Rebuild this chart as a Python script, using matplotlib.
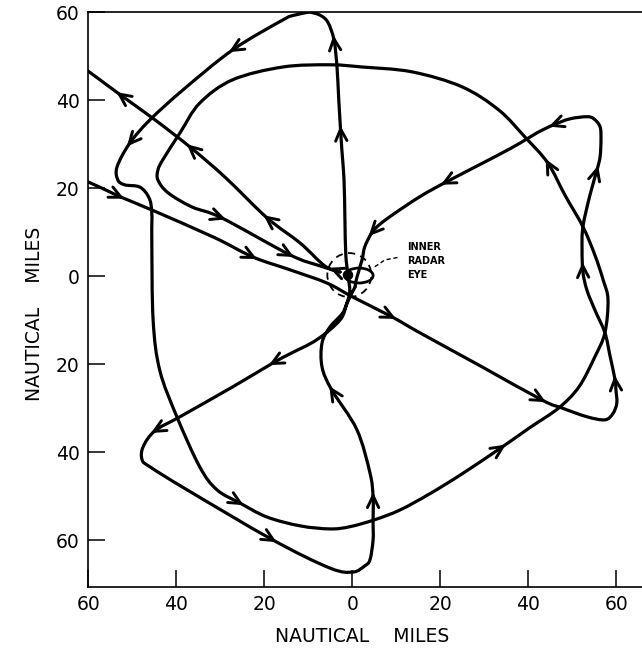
import numpy as np
import matplotlib
matplotlib.use("Agg")
import matplotlib.pyplot as plt
from matplotlib.patches import Circle, Ellipse, PathPatch
from matplotlib.path import Path
from matplotlib.ticker import FuncFormatter

plt.rcParams["font.family"] = ["DejaVu Sans"]

# Flight track, nautical miles east (x) and north (y) of the storm centre.
# Leg 1: enters from the west, crosses the eye, turns in the SE and NE, back in.
leg_east_loop = [
    (-60.1, 21.5), (-55.1, 19.2), (-52.8, 18.1), (-45.6, 15.1), (-31.3, 8.8),
    (-22.6, 4.4), (-14.2, 1.5), (-5.8, -1.5), (0.1, -4.7), (9.0, -9.2),
    (15.3, -12.8), (29.0, -20.3), (43.1, -28.1), (47.6, -29.9), (53.3, -31.9),
    (57.4, -32.6), (59.2, -31.2), (60.1, -28.8), (59.9, -25.8), (59.7, -23.5),
    (58.5, -17.8), (57.4, -12.8), (55.1, -7.6), (53.3, -3.1), (52.4, 1.0),
    (52.2, 6.0), (52.4, 11.3), (54.0, 18.5), (55.6, 24.2), (56.3, 27.2),
    (56.5, 31.0), (56.3, 34.0), (54.9, 35.8), (53.3, 36.3), (49.4, 35.8),
    (45.6, 34.4), (41.9, 32.6), (38.1, 30.3), (32.4, 27.2), (21.0, 21.3),
    (15.3, 18.1), (9.7, 14.4), (6.3, 11.9), (4.4, 9.9), (2.8, 6.7),
    (2.2, 3.8), (1.0, -0.3), (0.6, -2.4),
]

# Leg 2: out to the SW, around the south, north through the eye and up to 60 n mi.
leg_south_north = [
    (0.6, -2.4), (-1.2, -6.0), (-2.8, -9.9), (-8.1, -14.4), (-14.2, -17.6),
    (-18.1, -19.7), (-27.2, -25.1), (-39.2, -31.9), (-44.9, -35.1),
    (-47.6, -38.8), (-47.8, -41.7), (-46.0, -43.3), (-37.6, -48.5),
    (-18.1, -59.9), (-5.1, -66.3), (0.1, -67.2), (2.8, -65.8), (4.0, -64.4),
    (4.7, -59.9), (4.7, -56.0), (4.7, -50.1), (4.0, -44.7), (1.0, -34.8),
    (-4.7, -25.8), (-6.9, -20.6), (-6.9, -15.1), (-5.1, -11.5), (-2.2, -8.3),
    (-1.0, -5.3), (-0.6, -3.1), (-1.0, 0.3), (-1.5, 4.9), (-1.7, 12.8),
    (-1.9, 21.9), (-2.4, 28.8), (-3.1, 40.1), (-3.5, 47.6), (-4.2, 53.8),
    (-5.6, 57.8), (-7.4, 59.4), (-9.7, 60.1),
]

# Leg 3: the long circuit around the storm, ending back at the eye from the NW.
leg_circuit = [
    (-9.7, 60.1), (-13.1, 59.4), (-15.8, 58.3), (-27.2, 51.5), (-38.5, 42.4),
    (-46.0, 35.6), (-50.6, 30.3), (-53.5, 24.9), (-53.3, 21.9), (-51.7, 20.8),
    (-48.3, 20.3), (-46.2, 17.8), (-45.6, 14.4), (-45.6, 8.3), (-45.3, -9.9),
    (-43.8, -21.3), (-39.9, -31.9), (-34.7, -43.3), (-30.8, -48.5),
    (-25.6, -51.5), (-19.4, -54.7), (-11.9, -56.7), (-5.1, -57.4),
    (-0.6, -56.9), (5.1, -55.3), (10.8, -53.1), (17.6, -49.4), (24.9, -44.9),
    (34.0, -38.8), (40.3, -34.4), (46.9, -29.9), (51.5, -25.1), (55.1, -18.3),
    (57.4, -12.8), (58.1, -5.3), (57.0, -0.8), (55.1, 4.9), (52.4, 11.3),
    (48.3, 18.5), (44.4, 25.8), (39.2, 31.7), (33.3, 37.8), (24.9, 43.1),
    (13.5, 46.5), (2.2, 47.6), (-5.1, 48.1), (-15.8, 47.6), (-27.2, 44.7),
    (-34.7, 39.4), (-39.2, 32.6), (-43.1, 26.5), (-44.2, 24.2), (-44.2, 21.9),
    (-41.9, 19.0), (-36.5, 15.8), (-29.7, 13.3), (-14.2, 4.9), (-7.4, 2.4),
    (-2.8, 1.0),
]

# Leg 4: exit from the eye to the NW.
leg_exit = [
    (-2.8, 1.0), (-6.3, 2.4), (-11.9, 7.6), (-19.4, 13.3), (-29.0, 22.6),
    (-36.9, 29.4), (-44.9, 35.6), (-52.8, 41.3), (-60.1, 46.7),
]

# Direction arrows (approximate positions along each leg)
arrows_east_loop = [(-52.8, 18.1), (-22.6, 4.4), (9.0, -9.2), (43.1, -28.1),
                    (59.7, -23.5), (52.3, 2.2), (55.6, 24.2), (45.6, 34.4),
                    (21.0, 21.3), (4.4, 9.9)]
arrows_south_north = [(-18.1, -19.7), (-44.9, -35.1), (-18.1, -59.9),
                      (4.7, -50.1), (-4.7, -25.8), (-1.9, 33.3), (-4.2, 53.8)]
arrows_circuit = [(-27.2, 51.5), (-50.6, 30.3), (-25.6, -51.5), (34.0, -38.8),
                  (44.4, 25.8), (-29.7, 13.3), (-14.2, 4.9)]
arrows_exit = [(-4.0, 2.2), (-19.4, 13.3), (-36.9, 29.4), (-52.8, 41.3)]

# Eye features
radar_eye_center = (-0.7, 0.3)
radar_eye_radius = 5.0
inner_loop_center = (1.5, 0.2)
inner_loop_size = (6.4, 3.4)
fix_point = (-1.0, 0.3)

tick_values = [-60, -40, -20, 0, 20, 40, 60]

fig = plt.figure(figsize=(6.42, 6.55), dpi=100)
ax = fig.add_axes([88 / 642, 1 - 587 / 655, 1 - 88 / 642, 575 / 655])
ax.set_xlim(-60.1, 65.8)
ax.set_ylim(-70.6, 60.1)
ax.set_aspect("equal", adjustable="box", anchor="SW")

LW = 2.3


def smooth_path(leg):
    """Cubic Bezier path through the waypoints (Catmull-Rom tangents)."""
    p = np.asarray(leg, dtype=float)
    ext = np.vstack([p[0], p, p[-1]])
    verts = [p[0]]
    codes = [Path.MOVETO]
    for i in range(1, len(ext) - 2):
        p0, p1, p2, p3 = ext[i - 1], ext[i], ext[i + 1], ext[i + 2]
        verts += [p1 + (p2 - p0) / 6.0, p2 - (p3 - p1) / 6.0, p2]
        codes += [Path.CURVE4] * 3
    return Path(verts, codes)


for leg in (leg_east_loop, leg_south_north, leg_circuit, leg_exit):
    ax.add_patch(PathPatch(smooth_path(leg), fill=False, ec="black", lw=LW,
                           joinstyle="round", capstyle="round"))


def add_arrows(leg, where):
    pts = np.asarray(leg, dtype=float)
    for p in np.asarray(where, dtype=float):
        best = None
        for a, b in zip(pts[:-1], pts[1:]):
            d = b - a
            L2 = float(d @ d)
            if L2 == 0:
                continue
            t = np.clip((p - a) @ d / L2, 0.0, 1.0)
            q = a + t * d
            dist = np.hypot(*(p - q))
            if best is None or dist < best[0]:
                best = (dist, q, d / np.sqrt(L2))
        _, q, u = best
        ax.annotate("", xy=q + 1.0 * u, xytext=q - 0.6 * u,
                    arrowprops=dict(arrowstyle="->,head_length=0.5,head_width=0.24",
                                    lw=2.1, color="black", shrinkA=0, shrinkB=0,
                                    mutation_scale=17))


add_arrows(leg_east_loop, arrows_east_loop)
add_arrows(leg_south_north, arrows_south_north)
add_arrows(leg_circuit, arrows_circuit)
add_arrows(leg_exit, arrows_exit)

# Eye: dashed radar-eye circle, small inner loop and centre fix
ax.add_patch(Circle(radar_eye_center, radar_eye_radius, fill=False,
                    ec="black", lw=1.3, ls=(0, (4, 3))))
ax.add_patch(Ellipse(inner_loop_center, *inner_loop_size, fill=False,
                     ec="black", lw=2.0))
ax.add_patch(Circle(fix_point, 0.95, fc="black", ec="black", lw=1.5))

# Label and dashed leader for the inner radar eye
ax.plot([5.1, 7.4, 10.8], [2.2, 3.75, 4.4], color="black", lw=1.0,
        ls=(0, (3, 2)))
ax.text(12.4, 3.5, "INNER\nRADAR\nEYE", fontsize=7, fontweight="bold",
        ha="left", va="center", linespacing=1.5)

# Frame and ticks
ax.spines["right"].set_visible(False)
for s in ("left", "bottom", "top"):
    ax.spines[s].set_linewidth(1.2)
ax.set_xticks(tick_values)
ax.set_yticks(tick_values)
ax.xaxis.set_major_formatter(FuncFormatter(lambda v, _: f"{abs(int(round(v)))}"))
ax.yaxis.set_major_formatter(FuncFormatter(lambda v, _: f"{abs(int(round(v)))}"))
ax.tick_params(direction="in", length=12, width=1.1, labelsize=13.5, pad=6,
               top=False, right=False)

fig.text(362 / 642, 1 - 637 / 655, "NAUTICAL    MILES", fontsize=13.5,
         ha="center", va="center")
fig.text(35 / 642, 1 - 314 / 655, "NAUTICAL    MILES", fontsize=13.5,
         ha="center", va="center", rotation=90)

fig.savefig("out.png", dpi=100)
